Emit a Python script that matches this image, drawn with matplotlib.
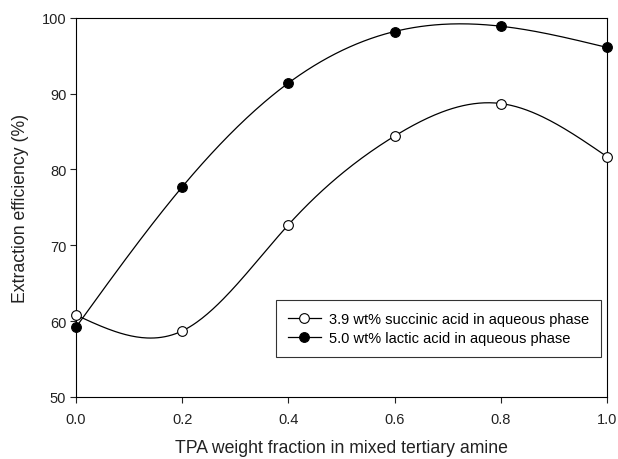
import numpy as np
import matplotlib
matplotlib.use("Agg")
import matplotlib.pyplot as plt

plt.rcParams['font.family'] = ['Liberation Sans', 'DejaVu Sans']

tpa_fraction = [0.0, 0.2, 0.4, 0.6, 0.8, 1.0]
succinic = [60.8, 58.7, 72.7, 84.4, 88.7, 81.7]
lactic = [59.2, 77.7, 91.4, 98.2, 98.9, 96.1]
labels = ["3.9 wt% succinic acid in aqueous phase",
          "5.0 wt% lactic acid in aqueous phase"]


def natural_spline(x, y, n=300):
    # natural cubic spline through the data points
    x = np.asarray(x, float)
    y = np.asarray(y, float)
    k = len(x)
    h = np.diff(x)
    A = np.zeros((k, k))
    b = np.zeros(k)
    A[0, 0] = A[-1, -1] = 1
    for i in range(1, k - 1):
        A[i, i - 1] = h[i - 1]
        A[i, i] = 2 * (h[i - 1] + h[i])
        A[i, i + 1] = h[i]
        b[i] = 3 * ((y[i + 1] - y[i]) / h[i] - (y[i] - y[i - 1]) / h[i - 1])
    c = np.linalg.solve(A, b)
    xs = np.linspace(x[0], x[-1], n)
    idx = np.clip(np.searchsorted(x, xs) - 1, 0, k - 2)
    dx = xs - x[idx]
    bb = (y[1:] - y[:-1]) / h - h * (2 * c[:-1] + c[1:]) / 3
    d = (c[1:] - c[:-1]) / (3 * h)
    ys = y[idx] + bb[idx] * dx + c[idx] * dx ** 2 + d[idx] * dx ** 3
    return xs, ys


fig, ax = plt.subplots(figsize=(6.18, 4.6), dpi=100)
fig.subplots_adjust(left=0.123, right=0.982, top=0.959, bottom=0.135)

for yv, face, lab in [(succinic, 'white', labels[0]), (lactic, 'black', labels[1])]:
    xs, ys = natural_spline(tpa_fraction, yv)
    ax.plot(xs, ys, color='black', lw=0.9, zorder=2)
    ax.plot(tpa_fraction, yv, 'o', mfc=face, mec='black', mew=0.8, ms=7,
            zorder=3, clip_on=False)
    ax.plot([], [], '-o', color='black', mfc=face, mec='black', mew=0.8,
            ms=7, lw=0.9, label=lab)

ax.set_xlim(0, 1.0)
ax.set_ylim(50, 100)
ax.set_xticks(np.arange(0, 1.01, 0.2))
ax.set_xticklabels([f"{v:.1f}" for v in np.arange(0, 1.01, 0.2)])
ax.set_yticks(range(50, 101, 10))
ax.tick_params(direction='out', length=4, width=0.8, labelsize=10.5, colors='#222222')
ax.tick_params(axis='x', pad=7)
ax.tick_params(axis='y', pad=3)
for s in ax.spines.values():
    s.set_linewidth(0.8)

ax.set_xlabel("TPA weight fraction in mixed tertiary amine", fontsize=12.7,
              labelpad=9, color='#222222')
ax.set_ylabel("Extraction efficiency (%)", fontsize=12.7, labelpad=9, color='#222222')

leg = ax.legend(loc='lower right', bbox_to_anchor=(0.989, 0.105), borderaxespad=0,
                fontsize=10.5, frameon=True, fancybox=False, edgecolor='black',
                handlelength=2.3, handletextpad=0.55, borderpad=0.8, labelspacing=0.37)
leg.get_frame().set_linewidth(0.8)

fig.savefig("out.png", dpi=100)
